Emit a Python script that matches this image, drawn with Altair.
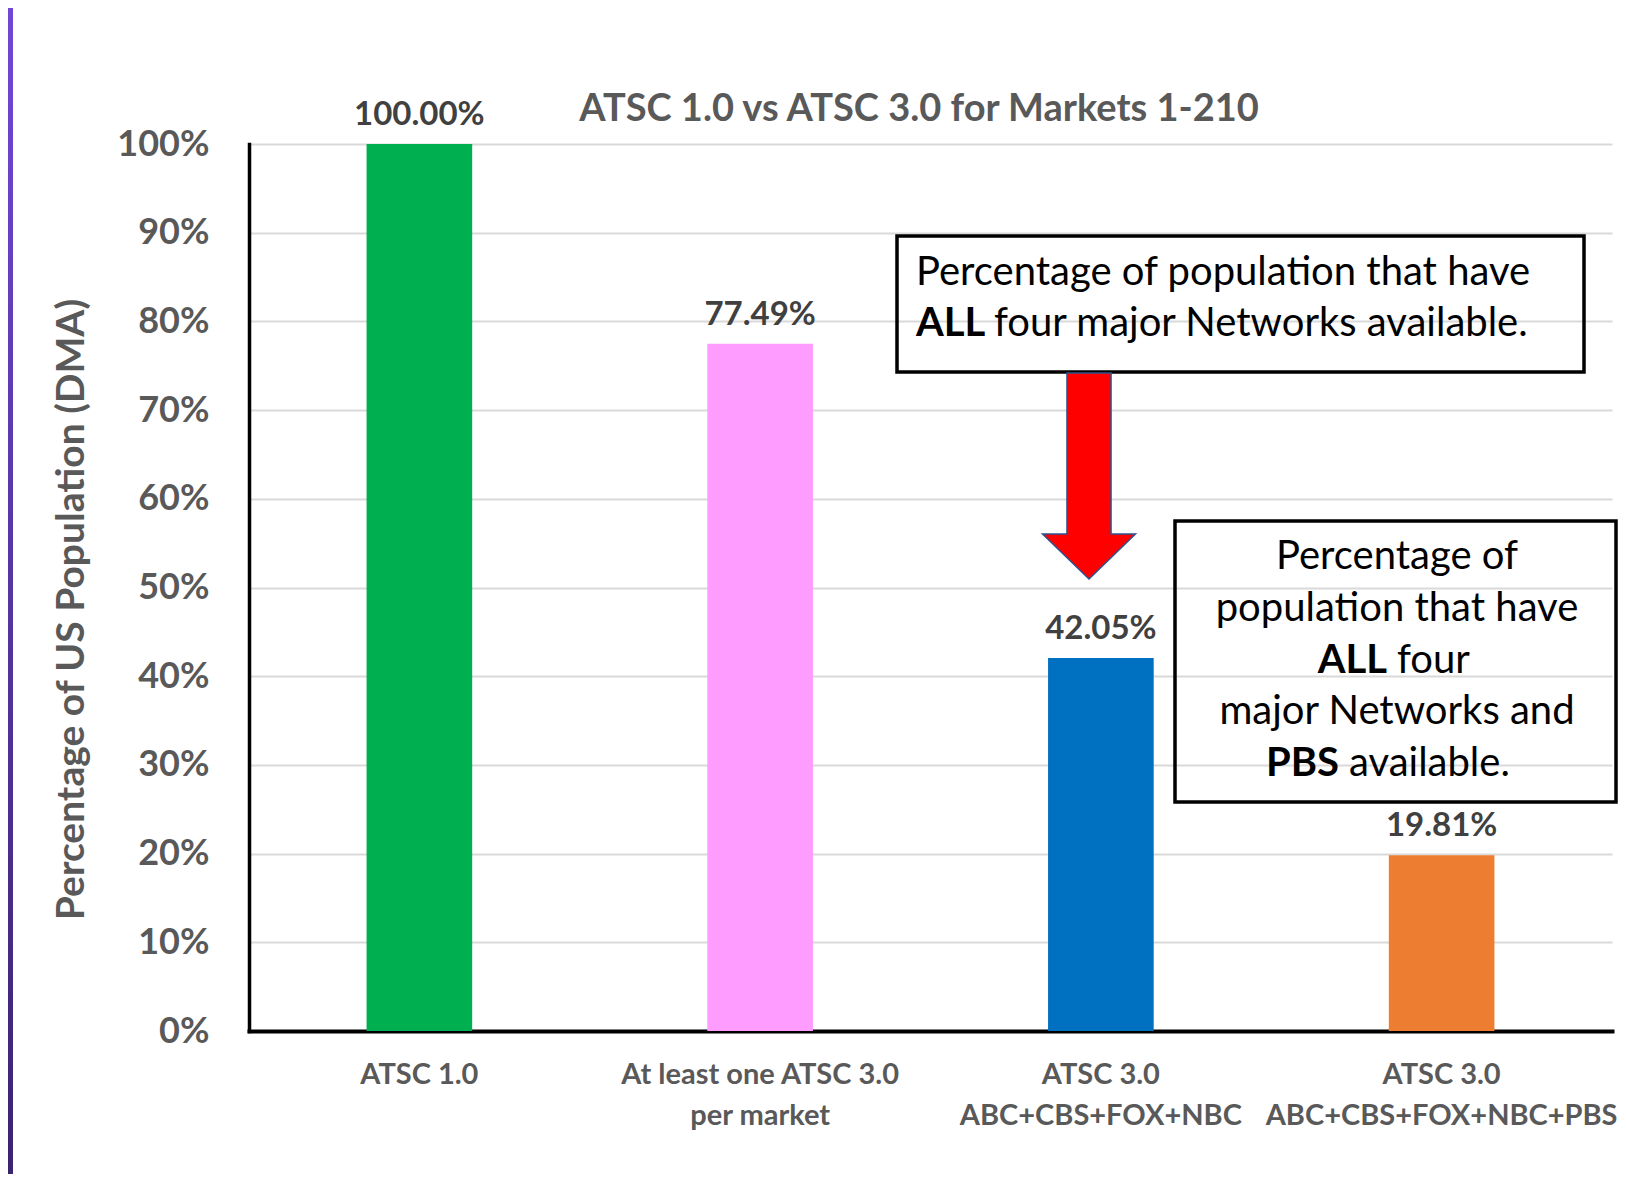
import altair as alt
import pandas as pd

# ---- data ----
categories = [
    "ATSC 1.0",
    "At least one ATSC 3.0\nper market",
    "ATSC 3.0\nABC+CBS+FOX+NBC",
    "ATSC 3.0\nABC+CBS+FOX+NBC+PBS",
]
shares = [1.0, 0.7749, 0.4205, 0.1981]
bar_colors = ["#00b050", "#ff9cff", "#0070c0", "#ed7d31"]
y_ticks = [0.0, 0.1, 0.2, 0.3, 0.4, 0.5, 0.6, 0.7, 0.8, 0.9, 1.0]

title_text = "ATSC 1.0 vs ATSC 3.0 for Markets 1-210"
y_title = "Percentage of US Population (DMA)"

df = pd.DataFrame({"category": categories, "share": shares, "color": bar_colors})
one = pd.DataFrame({"k": [0]})

FONT = "Lato"
GRAY = "#595959"
NOTE_SIZE = 40

x_enc = alt.X(
    "category:N",
    sort=categories,
    scale=alt.Scale(paddingInner=0.69, paddingOuter=0.345),
    axis=alt.Axis(
        title=None,
        labelExpr="split(datum.label, '\\n')",
        labelFont=FONT,
        labelFontSize=29,
        labelFontWeight="bold",
        labelColor=GRAY,
        labelLineHeight=41,
        labelPadding=29,
        labelLimit=500,
        labelAngle=0,
        ticks=False,
        grid=False,
        domainColor="black",
        domainWidth=4,
        domainCap="square",
    ),
)
y_enc = alt.Y(
    "share:Q",
    scale=alt.Scale(domain=[0, 1], nice=False),
    axis=alt.Axis(
        title=y_title,
        values=y_ticks,
        format=".0%",
        labelFont=FONT,
        labelFontSize=36,
        labelFontWeight="bold",
        labelColor=GRAY,
        labelPadding=40,
        ticks=False,
        grid=True,
        gridColor="#d9d9d9",
        gridWidth=2,
        domainColor="black",
        domainWidth=3.5,
        domainCap="square",
        titleFont=FONT,
        titleFontSize=39,
        titleFontWeight="bold",
        titleColor=GRAY,
        titleAngle=270,
        titleX=-178,
        titleY=465,
        titleAlign="center",
        titleBaseline="middle",
    ),
)

bars = alt.Chart(df).mark_bar().encode(
    x=x_enc, y=y_enc, color=alt.Color("color:N", scale=None)
)
labels = alt.Chart(df).mark_text(
    baseline="alphabetic", dy=-19, font=FONT, fontSize=33, fontWeight="bold", color="#404040"
).encode(
    x=alt.X("category:N", sort=categories),
    y="share:Q",
    text=alt.Text("share:Q", format=".2%"),
)

# chart title, drawn as text above the plot
title = alt.Chart(one).mark_text(
    text=title_text, align="center", baseline="alphabetic", font=FONT,
    fontSize=38, fontWeight="bold", color=GRAY,
).encode(x=alt.value(670), y=alt.value(-23))

# purple frame strip on the left
strip = alt.Chart(one).mark_rect(
    fill=alt.LinearGradient(
        gradient="linear",
        stops=[alt.GradientStop(color="#7047d6", offset=0), alt.GradientStop(color="#3a2470", offset=1)],
        x1=0, x2=0, y1=0, y2=1,
    )
).encode(x=alt.value(-241), x2=alt.value(-236), y=alt.value(-136), y2=alt.value(1030))


def box(x1, x2, y1, y2):
    return alt.Chart(one).mark_rect(
        fill="transparent", stroke="black", strokeWidth=3.5
    ).encode(x=alt.value(x1), x2=alt.value(x2), y=alt.value(y1), y2=alt.value(y2))


def note(text, x, y, align="left", weight="normal"):
    return alt.Chart(one).mark_text(
        text=text, align=align, baseline="middle", font=FONT,
        fontSize=NOTE_SIZE, fontWeight=weight, color="black",
    ).encode(x=alt.value(x), y=alt.value(y))


arrow_path = "M-0.214,-1 L0.214,-1 L0.214,0.563 L0.451,0.563 L0,1 L-0.451,0.563 L-0.214,0.563 Z"
arrow = alt.Chart(one).mark_point(
    shape=arrow_path, size=206 * 206, filled=True, fill="#ff0000",
    stroke="#2f528f", strokeWidth=1.5, opacity=1,
).encode(x=alt.value(840), y=alt.value(332))

box1 = box(648, 1335, 92, 228)
box1_text = [
    note("Percentage of population that have", 667, 129),
    note("ALL", 667, 180, weight="bold"),
    note("four major Networks available.", 745, 180),
]
box2 = box(926, 1367, 377, 658)
box2_text = [
    note("Percentage of", 1148, 413, align="center"),
    note("population that have", 1148, 465, align="center"),
    note("ALL", 1138, 517, align="right", weight="bold"),
    note("four", 1148, 517, align="left"),
    note("major Networks and", 1148, 568, align="center"),
    note("PBS", 1090, 620, align="right", weight="bold"),
    note("available.", 1100, 620, align="left"),
]

chart = alt.layer(
    strip, bars, labels, title, box1, arrow, *box1_text, box2, *box2_text
).properties(
    width=1363,
    height=887,
    autosize=alt.AutoSizeParams(type="none"),
    padding={"left": 241, "top": 136, "right": 6, "bottom": 143},
).configure_view(strokeWidth=0)

chart.save("out.html", embed_options={"renderer": "svg", "actions": False})
